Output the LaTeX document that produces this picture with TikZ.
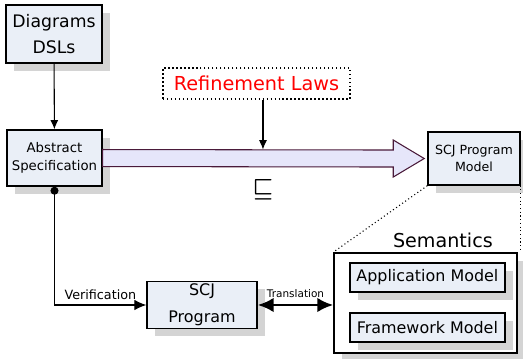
\documentclass[tikz,border=0pt]{standalone}
\usepackage{amsmath}
\usepackage{amssymb}
\usepackage{fontspec}
\setmainfont{DejaVu Sans}
\usepackage[dvipsnames]{xcolor}
\definecolor{boxfill}{HTML}{EAEFF7}
\definecolor{arrowfill}{HTML}{E6E6FA}
\definecolor{arrowline}{HTML}{4A1A3A}
\definecolor{shadowgray}{HTML}{D4D4D4}
\usepackage{tikz}
\usetikzlibrary{arrows.meta, positioning, shadows, calc}

\begin{document}
\begin{tikzpicture}[
    box/.style={draw=black, line width=1.1pt, fill=boxfill, align=center,
                inner sep=2pt,
                drop shadow={shadow xshift=0.21cm, shadow yshift=-0.21cm,
                             fill=shadowgray, opacity=1}},
    conn/.style={line width=0.8pt, -{Latex[length=7pt, width=6pt]}},
    refarrow/.style={draw=arrowline, line width=0.8pt, fill=arrowfill}
  ]
    \useasboundingbox (0,0) rectangle (13.84,9.50);

    % left column
    \node[box, minimum width=2.54cm, minimum height=1.535cm,
          font=\fontsize{13}{19}\selectfont] (dsl) at (1.429,8.599)
      {Diagrams\\DSLs};
    \node[box, minimum width=2.51cm, minimum height=1.48cm,
          font=\fontsize{10}{13.5}\selectfont] (spec) at (1.442,5.318)
      {Abstract\\Specification};

    % refinement
    \node[draw, dotted, line width=1pt, minimum width=4.95cm,
          minimum height=0.82cm, text=red,
          font=\fontsize{14.5}{16}\selectfont] (laws) at (6.787,7.290)
      {Refinement Laws};
    \node[box, minimum width=2.43cm, minimum height=1.40cm,
          font=\fontsize{9.5}{12.75}\selectfont] (model) at (12.542,5.305)
      {SCJ Program\\Model};

    \draw[refarrow]
      ($(spec.east)+(0,0.225)$) -- ($(model.west)+(-0.902,0.225)$)
      -- ++(0,0.265) -- ($(model.west)+(-0.082,0)$)
      -- ($(model.west)+(-0.902,-0.49)$) -- ++(0,0.265)
      -- ($(spec.east)+(0,-0.225)$) -- cycle;

    \node[font=\fontsize{17}{17}\selectfont] (refines) at (6.959,4.47)
      {$\boldsymbol{\sqsubseteq}$};
    \coordinate (hit) at (6.959,5.543);

    % semantics
    \node[box, fill=white, minimum width=4.84cm, minimum height=2.65cm]
      (sem) at (11.259,1.482) {};
    \node[font=\fontsize{14.4}{16}\selectfont] (semlabel) at (11.72,3.149)
      {Semantics};
    \node[box, minimum width=4.10cm, minimum height=0.77cm,
          font=\fontsize{12}{14}\selectfont] (app) at (11.31,2.157)
      {Application Model};
    \node[box, minimum width=4.10cm, minimum height=0.77cm,
          font=\fontsize{12}{14}\selectfont] (fw) at (11.31,0.833)
      {Framework Model};

    \node[box, minimum width=2.91cm, minimum height=1.11cm,
          font=\fontsize{12}{20}\selectfont] (prog) at (5.345,1.429)
      {SCJ\\Program};

    % connectors
    \draw[conn] (dsl) -- (spec);
    \draw[conn] (laws.south -| hit) -- (hit);
    \draw[conn, {Circle[length=6pt]}-{Latex[length=9pt, width=8pt]}]
      (spec.south) |- node[above, pos=0.75, font=\fontsize{9.6}{11}\selectfont]
      {Verification} (prog.west);
    \draw[line width=2.2pt, {Latex[length=12pt, width=11pt]}-{Latex[length=12pt, width=11pt]}]
      (prog.east) -- node[above, yshift=1pt, font=\fontsize{7.9}{9}\selectfont]
      {Translation} (prog.east -| sem.west);

    \draw[dotted, line width=0.8pt] (model.south west) -- (sem.north west);
    \draw[dotted, line width=0.8pt] (model.south east) -- (model.south east |- sem.north);
  \end{tikzpicture}
\end{document}
